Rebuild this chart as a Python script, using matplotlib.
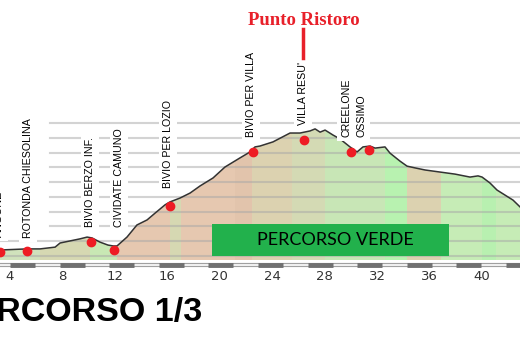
import numpy as np
import matplotlib
matplotlib.use("Agg")
import matplotlib.pyplot as plt

# profilo altimetrico (km, quota)
km = [3.10, 5.32, 6.31, 7.46, 7.84, 8.60, 9.36, 9.90, 10.28, 10.88, 11.49, 11.88,
      12.18, 12.94, 13.70, 14.47, 15.08, 15.84, 16.22, 16.98, 17.75, 18.51, 19.50,
      20.41, 21.56, 22.32, 22.70, 23.08, 24.07, 25.37, 26.13, 26.89, 27.28, 27.66,
      28.04, 28.65, 29.18, 29.94, 30.48, 30.93, 31.47, 31.85, 32.61, 32.99, 33.75,
      34.29, 34.90, 35.66, 36.80, 37.95, 39.09, 39.70, 40.01, 40.61, 41.15, 41.76,
      42.37, 42.95]
quota = [270, 274, 274, 280, 294, 301, 308, 314, 311, 297, 287, 284,
         284, 314, 355, 372, 395, 423, 433, 446, 463, 487, 514,
         551, 582, 602, 619, 622, 636, 666, 666, 673, 680, 669,
         676, 659, 646, 619, 602, 619, 622, 615, 619, 598, 571,
         554, 548, 541, 534, 527, 517, 521, 517, 497, 473, 456,
         439, 414]

# punti notevoli
nomi = ["ANGONE", "ROTONDA CHIESOLINA", "BIVIO BERZO INF.", "CIVIDATE CAMUNO",
        "BIVIO PER LOZIO", "BIVIO PER VILLA", "VILLA RESU'", "CREELONE", "OSSIMO"]
punti_km = [3.26, 5.32, 10.20, 11.95, 16.22, 22.55, 26.44, 30.02, 31.39]
punti_quota = [264, 267, 297, 270, 419, 602, 642, 602, 609]

# fasce di pendenza
fasce = [3.0, 6.31, 10.12, 12.18, 16.22, 17.06, 21.18, 22.47, 25.52, 28.04,
         32.61, 34.29, 36.88, 40.01, 41.07, 43.2]
colori = ['#d0e2bc', '#d6d8b2', '#c8e8b4', '#e6c8b0', '#d6d8b2', '#e6c8b0',
          '#e2c4ac', '#dcd2b0', '#d4dab4', '#c8e6b6', '#b8f2b0', '#dcd2b0',
          '#c6ecb6', '#b8f0b0', '#c6ecb6']

tick_km = [4, 8, 12, 16, 20, 24, 28, 32, 36, 40]
griglia = [250, 300, 350, 400, 450, 500, 550, 600, 650, 700]

fig = plt.figure(figsize=(5.2, 3.46), dpi=100)
ax = fig.add_axes([0, 78 / 346, 1, 268 / 346])
ax.set_xlim(3.26, 42.90)
ax.set_ylim(209.4, 1116)
for s in ax.spines.values():
    s.set_visible(False)
ax.set_yticks([])

base = 236.5
area = ax.fill_between(km, quota, base, color='none', lw=0)
clip = area.get_paths()[0]
for i in range(len(colori)):
    r = ax.axvspan(fasce[i], fasce[i + 1], color=colori[i], lw=0, zorder=1)
    r.set_clip_path(clip, ax.transData)

# griglia
for g in griglia:
    start = 3.26 if g < 350 else 7.08
    ax.plot([start, 42.9], [g, g], color='#a8a8a8', alpha=0.5, lw=1.5, zorder=2)

ax.plot(km, quota, color='#333333', lw=1.1, zorder=3)
ax.plot(punti_km, punti_quota, 'o', color='#ee1c24', ms=6, zorder=4)

# etichette
etich_x = [3.19, 5.40, 10.12, 12.33, 16.07, 22.40, 26.36, 29.64, 30.78]
etich_y = [314, 311, 348, 348, 480, 653, 693, 653, 653]
for n, x, y in zip(nomi, etich_x, etich_y):
    ax.text(x, y, n, rotation=90, ha='center', va='bottom', fontsize=7.7,
            family='Liberation Sans', color='black', zorder=5,
            bbox=dict(boxstyle='square,pad=0.35', fc='white', ec='none'))

# scala asse x
ax.plot([3.26, 42.9], [218, 218], color='#a0a0a0', lw=3, solid_capstyle='butt', zorder=2)
ax.plot([3.26, 42.9], [218, 218], color='white', lw=1.2, zorder=2)
for s0 in np.arange(4.03, 43, 3.78):
    ax.plot([s0, s0 + 1.9], [218, 218], color='#707070', lw=3.5,
            solid_capstyle='butt', zorder=3)

ax.set_xticks(tick_km)
ax.set_xticklabels([str(t) for t in tick_km])
ax.tick_params(axis='x', length=0, pad=1.5, labelsize=9.5, labelcolor='#333333')

# punto ristoro
ax.plot([26.36, 26.36], [920, 1018], color='#e8202a', lw=2.5, zorder=5)
ax.text(26.42, 1045, "Punto Ristoro", ha='center', va='center', color='#e8202a',
        fontsize=13.5, fontweight='bold', family='Liberation Serif')

# riquadro percorso verde
ax.add_patch(plt.Rectangle((19.43, 251), 18.06, 108, color='#22b14c', lw=0, zorder=6))
ax.text(28.8, 305, "PERCORSO VERDE", ha='center', va='center', fontsize=13,
        family='Lato', color='black', zorder=7)

fig.text(202 / 520, 25 / 346, "PERCORSO 1/3", ha='right', va='baseline',
         fontsize=24.5, fontweight='bold', family='Liberation Sans', color='black')

fig.savefig("out.png", dpi=100)
